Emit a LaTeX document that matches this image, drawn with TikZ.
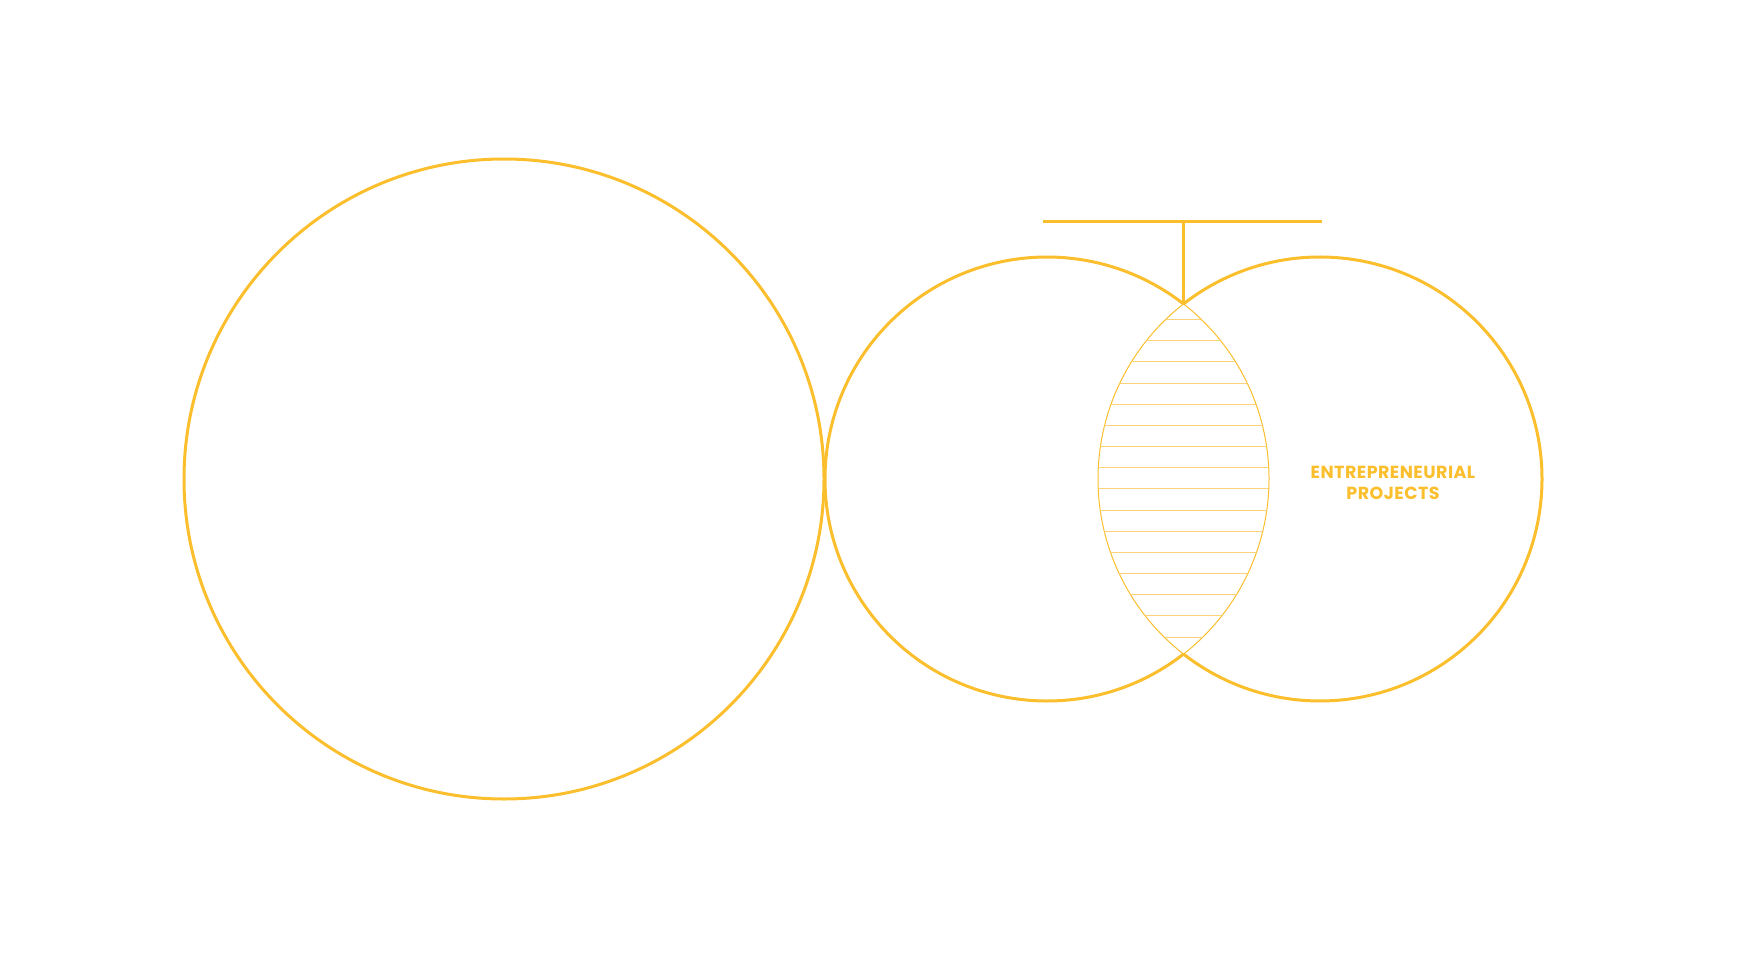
\documentclass[tikz,border=0pt]{standalone}
\usepackage{fontspec}
\setmainfont{Poppins}[LetterSpace=2.5]
\definecolor{gold}{HTML}{FBBE2C}
\definecolor{goldlight}{HTML}{FDD27B}
\begin{document}
\begin{tikzpicture}[x=1pt,y=-1pt,
  thickline/.style={draw=gold,line width=3pt},
  thinline/.style={draw=gold,line width=1pt},
  hatchline/.style={draw=goldlight,line width=1pt},
  label/.style={text=gold,font=\bfseries\fontsize{17.5}{20.5}\selectfont,align=center}]
\useasboundingbox (0,0) rectangle (1740,968);
% centres
\coordinate (B) at (504,479);
\coordinate (M) at (1047,479);
\coordinate (R) at (1320,479);
\coordinate (top) at (1183.5,303.9);
\coordinate (bot) at (1183.5,654.1);
\coordinate (tl) at (1043,221.7);
\coordinate (tr) at (1322,221.7);
\coordinate (tm) at (1183.5,221.7);
% big circle
\draw[thickline] (B) circle (320);
% middle and right circles (outer parts thick)
\draw[thickline] (M) ++(52.06:222) arc[start angle=52.06,end angle=307.94,radius=222];
\draw[thickline] (R) ++(-127.94:222) arc[start angle=-127.94,end angle=127.94,radius=222];
% lens thin arcs
\draw[thinline] (M) ++(-52.06:222) arc[start angle=-52.06,end angle=52.06,radius=222];
\draw[thinline] (R) ++(127.94:222) arc[start angle=127.94,end angle=232.06,radius=222];
% hatching
\begin{scope}
\clip (M) circle (222);
\clip (R) circle (222);
\foreach \k in {0,...,15}{
  \draw[hatchline] (1080,{319.6+21.17*\k}) -- (1290,{319.6+21.17*\k});
}
\end{scope}
% T connector
\draw[thickline,line width=2.7pt] (tl) -- (tr);
\draw[thickline,line width=2.7pt] (tm) -- (top);
% label
\node[label] (ep) at (1393,483) {ENTREPRENEURIAL\\PROJECTS};
\end{tikzpicture}
\end{document}
